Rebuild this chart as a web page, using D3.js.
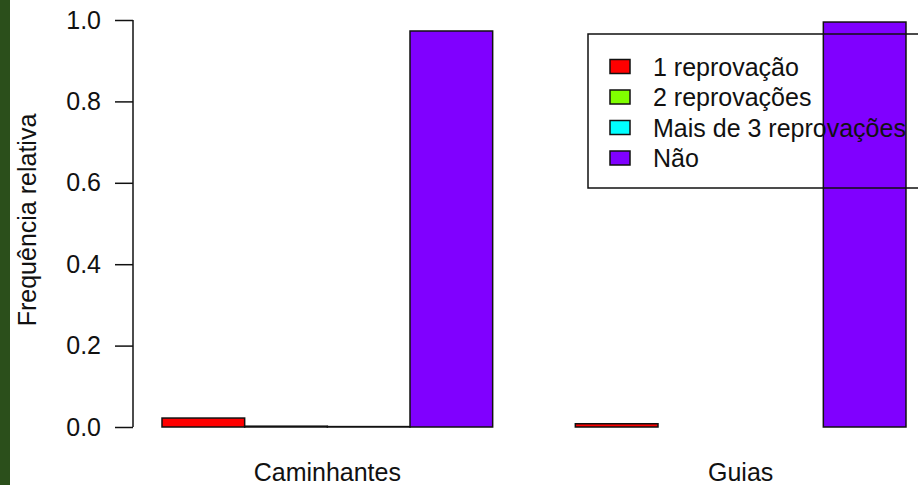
<!DOCTYPE html>
<html>
<head>
<meta charset="utf-8">
<script src="https://cdn.jsdelivr.net/npm/d3@7"></script>
<style>
  body { margin: 0; background: #fff; }
  svg text { font-family: "Liberation Sans", Arial, sans-serif; fill: #111; }
</style>
</head>
<body>
<div id="chart"></div>
<script>
var width = 918, height = 485;

// data
var groups = ['Caminhantes', 'Guias'];
var series = ['1 reprovação', '2 reprovações', 'Mais de 3 reprovações', 'Não'];
var colors = ['#FF0000', '#80FF00', '#00FFFF', '#8000FF'];
var caminhantes = [0.022, 0.002, 0.001, 0.973];
var guias = [0.008, 0, 0, 0.995];
var values = [caminhantes, guias];
var yTicks = [0, 0.2, 0.4, 0.6, 0.8, 1.0];

var fontSize = '25px';

var svg = d3.select('#chart').append('svg')
    .attr('width', width)
    .attr('height', height);

svg.append('rect')
    .attr('x', 0).attr('y', 0)
    .attr('width', width).attr('height', height)
    .attr('fill', '#fff');

// dark green strip on the left edge
svg.append('rect')
    .attr('x', 0).attr('y', 0)
    .attr('width', 10).attr('height', height)
    .attr('fill', '#2b4f1b');

// bar positions in barplot units (space = c(0,1))
var x = d3.scaleLinear().domain([1, 10]).range([162, 906]);
var y = d3.scaleLinear().domain([0, 1]).range([427, 20]);

var bars = [];
values.forEach(function(vals, g) {
    vals.forEach(function(v, i) {
        var left = 1 + g * 5 + i;
        bars.push({ left: left, value: v, color: colors[i] });
    });
});

svg.append('g').selectAll('rect')
    .data(bars)
    .enter()
    .append('rect')
    .attr('x', function(d) { return x(d.left); })
    .attr('y', function(d) { return y(d.value); })
    .attr('width', function(d) { return x(d.left + 1) - x(d.left); })
    .attr('height', function(d) { return y(0) - y(d.value); })
    .attr('fill', function(d) { return d.color; })
    .attr('stroke', '#111')
    .attr('stroke-width', 1.5);

// y axis
var yAxis = d3.axisLeft(y)
    .tickValues(yTicks)
    .tickFormat(d3.format('.1f'))
    .tickSize(18)
    .tickPadding(14);

var ag = svg.append('g')
    .attr('transform', 'translate(133,0)')
    .call(yAxis);
ag.select('.domain')
    .attr('d', 'M0,' + y(1) + 'V' + y(0))
    .attr('stroke', '#111')
    .attr('stroke-width', 1.5);
ag.selectAll('.tick line').attr('stroke', '#111').attr('stroke-width', 1.5);
ag.selectAll('.tick text')
    .style('font-size', fontSize)
    .style('font-family', '"Liberation Sans", Arial, sans-serif')
    .attr('fill', '#111');

svg.append('text')
    .attr('transform', 'translate(36,220) rotate(-90)')
    .attr('text-anchor', 'middle')
    .style('font-size', fontSize)
    .text('Frequência relativa');

// group labels
svg.append('g').selectAll('text')
    .data(groups)
    .enter()
    .append('text')
    .attr('x', function(d, g) { return x(1 + g * 5 + 2); })
    .attr('y', 481)
    .attr('text-anchor', 'middle')
    .style('font-size', fontSize)
    .text(function(d) { return d; });

// legend, drawn over the bars
var legend = svg.append('g');
legend.append('rect')
    .attr('x', 588).attr('y', 34)
    .attr('width', 360).attr('height', 154)
    .attr('fill', 'none')
    .attr('stroke', '#111')
    .attr('stroke-width', 1.5);

var items = legend.selectAll('g.item')
    .data(series)
    .enter()
    .append('g')
    .attr('transform', function(d, i) { return 'translate(0,' + (66.5 + i * 30.5) + ')'; });
items.append('rect')
    .attr('x', 610).attr('y', -7)
    .attr('width', 20).attr('height', 14)
    .attr('fill', function(d, i) { return colors[i]; })
    .attr('stroke', '#111')
    .attr('stroke-width', 1.5);
items.append('text')
    .attr('x', 653)
    .attr('y', 9)
    .style('font-size', fontSize)
    .text(function(d) { return d; });
</script>
</body>
</html>
